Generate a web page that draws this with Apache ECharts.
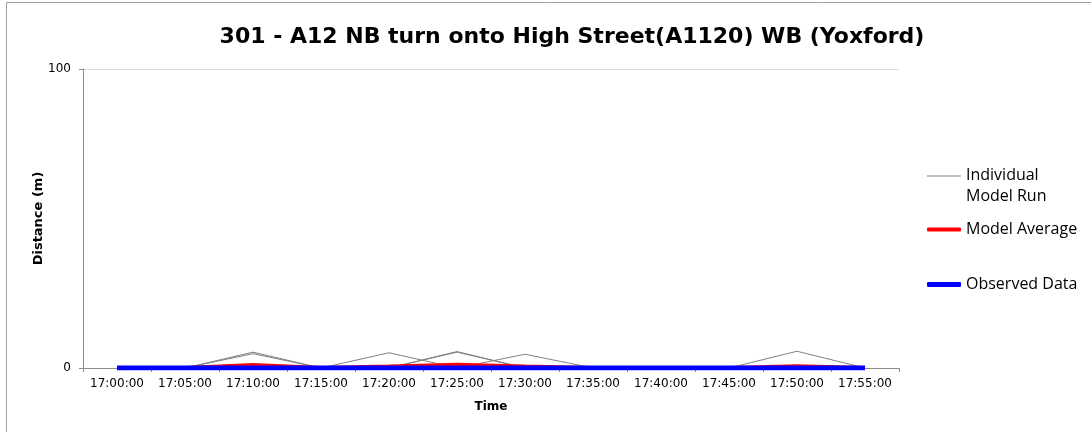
<!DOCTYPE html>
<html>
<head>
<meta charset="utf-8">
<script src="https://cdn.jsdelivr.net/npm/echarts@6/dist/echarts.min.js"></script>
<style>
  html, body { margin: 0; padding: 0; background: #fff; }
  #chart { width: 1091px; height: 432px; }
</style>
</head>
<body>
<div id="chart"></div>
<script>
// time slots along the x axis
var times = ['17:00:00', '17:05:00', '17:10:00', '17:15:00', '17:20:00', '17:25:00',
  '17:30:00', '17:35:00', '17:40:00', '17:45:00', '17:50:00', '17:55:00'];

// individual model runs (queue length, m)
var run1 = [0, 0, 5.3, 0, 0, 0, 0, 0, 0, 0, 0, 0];
var run2 = [0, 0, 4.8, 0, 0, 0, 0, 0, 0, 0, 0, 0];
var run3 = [0, 0, 0, 0, 5.1, 0, 0, 0, 0, 0, 0, 0];
var run4 = [0, 0, 0, 0, 0, 5.5, 0, 0, 0, 0, 0, 0];
var run5 = [0, 0, 0, 0, 0, 5.3, 0, 0, 0, 0, 0, 0];
var run6 = [0, 0, 0, 0, 0, 0, 4.6, 0, 0, 0, 0, 0];
var run7 = [0, 0, 0, 0, 0, 0, 0, 0, 0, 0, 5.6, 0];
var run8 = [0, 0, 0, 0, 0, 0, 0, 0, 0, 0, 0, 0];
var run9 = [0, 0, 0, 0, 0, 0, 0, 0, 0, 0, 0, 0];
var run10 = [0, 0, 0, 0, 0, 0, 0, 0, 0, 0, 0, 0];
var runs = [run1, run2, run3, run4, run5, run6, run7, run8, run9, run10];

var modelAverage = [0, 0, 1.0, 0, 0.5, 1.1, 0.5, 0, 0, 0, 0.6, 0];
var observed = [0, 0, 0, 0, 0, 0, 0, 0, 0, 0, 0, 0];

var chart = echarts.init(document.getElementById('chart'));

var series = [];
for (var i = 0; i < runs.length; i++) {
  series.push({
    name: 'Individual Model Run',
    type: 'line',
    data: runs[i],
    symbol: 'none',
    lineStyle: { color: '#808080', width: 1 },
    itemStyle: { color: '#808080' },
    z: 2
  });
}
series.push({
  name: 'Model Average',
  type: 'line',
  data: modelAverage,
  symbol: 'none',
  lineStyle: { color: '#ff0000', width: 4 },
  itemStyle: { color: '#ff0000' },
  z: 3
});
series.push({
  name: 'Observed Data',
  type: 'line',
  data: observed,
  symbol: 'none',
  lineStyle: { color: '#0000ff', width: 5 },
  itemStyle: { color: '#0000ff' },
  z: 4
});

var legendText = { fontFamily: 'Open Sans', fontSize: 16, color: '#000', lineHeight: 21 };
var tickFont = { fontFamily: 'DejaVu Sans', fontSize: 12, color: '#000' };

var option = {
  animation: false,
  backgroundColor: '#fff',
  title: {
    text: '301 - A12 NB turn onto High Street(A1120) WB (Yoxford)',
    left: 567,
    top: 21,
    textAlign: 'center',
    textStyle: { fontFamily: 'DejaVu Sans', fontSize: 22, fontWeight: 'bold', color: '#000' }
  },
  graphic: [{
    type: 'rect',
    shape: { x: 6.5, y: 2.5, width: 1200, height: 600 },
    style: { fill: 'none', stroke: '#a0a0a0', lineWidth: 1 },
    silent: true
  }],
  legend: [{
    data: ['Individual Model Run'],
    left: 927, top: 165, padding: 0,
    itemWidth: 34, itemHeight: 21,
    icon: 'path://M0,0h34v1h-34z M0,21h0.01v0.01h-0.01z',
    formatter: function() { return 'Individual\nModel Run'; },
    textStyle: legendText
  }, {
    data: ['Model Average'],
    left: 927, top: 219, padding: 0,
    itemWidth: 34, itemHeight: 4,
    icon: 'roundRect',
    textStyle: legendText
  }, {
    data: ['Observed Data'],
    left: 927, top: 274, padding: 0,
    itemWidth: 34, itemHeight: 5,
    icon: 'roundRect',
    textStyle: legendText
  }],
  grid: { left: 83, right: 192, top: 69, bottom: 64 },
  xAxis: {
    type: 'category',
    data: times,
    boundaryGap: true,
    name: 'Time',
    nameLocation: 'middle',
    nameGap: 33,
    nameMoveOverlap: false,
    nameTextStyle: { fontFamily: 'DejaVu Sans', fontSize: 12, fontWeight: 'bold', color: '#000' },
    axisLine: { lineStyle: { color: '#8c8c8c' } },
    axisTick: { show: true, length: 4, lineStyle: { color: '#8c8c8c' } },
    axisLabel: Object.assign({ margin: 10, interval: 0 }, tickFont)
  },
  yAxis: {
    type: 'value',
    min: 0,
    max: 100,
    interval: 100,
    name: 'Distance (m)',
    nameLocation: 'middle',
    nameGap: 38,
    nameMoveOverlap: false,
    nameTextStyle: { fontFamily: 'DejaVu Sans', fontSize: 13, fontWeight: 'bold', color: '#000' },
    axisLine: { show: true, lineStyle: { color: '#8c8c8c' } },
    axisTick: { show: true, length: 4, lineStyle: { color: '#8c8c8c' } },
    axisLabel: Object.assign({ margin: 12 }, tickFont),
    splitLine: { show: true, lineStyle: { color: '#d9d9d9' } }
  },
  series: series
};

chart.setOption(option);
</script>
</body>
</html>
